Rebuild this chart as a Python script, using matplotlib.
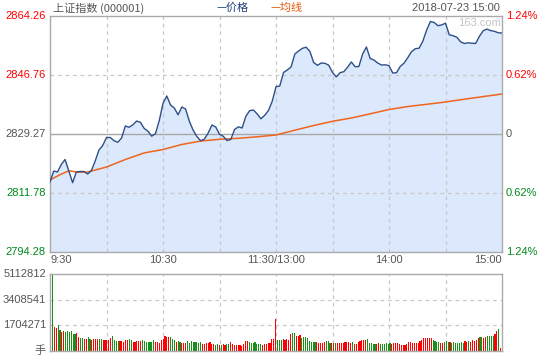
import matplotlib
matplotlib.use('Agg')
import matplotlib.pyplot as plt
import matplotlib.transforms as mtransforms
import numpy as np

plt.rcParams['font.family'] = ['Liberation Sans', 'Noto Sans CJK SC', 'DejaVu Sans']

# ---------------- data ----------------
prev_close = 2829.27
price_ticks = [2794.28, 2811.78, 2829.27, 2846.76, 2864.26]
price_tick_colors = ['#00891a', '#00891a', '#555555', '#ff0000', '#ff0000']
pct_labels = ['1.24%', '0.62%', '0', '0.62%', '1.24%']
time_ticks = [0, 60, 120, 180, 240]
time_labels = ['9:30', '10:30', '11:30/13:00', '14:00', '15:00']
grid_minutes = [30, 60, 90, 120, 150, 180, 210]

# price every 2 minutes (0..240)
price = [
    2815.04, 2818.30, 2818.00, 2820.23, 2821.71, 2818.30, 2814.83, 2818.00, 2818.15, 2818.15,
    2817.41, 2818.45, 2821.26, 2824.53, 2825.86, 2828.23, 2828.23, 2827.28, 2826.81, 2828.08,
    2831.64, 2831.26, 2832.00, 2833.12, 2832.74, 2830.93, 2830.10, 2828.62, 2829.36, 2833.21,
    2838.34, 2840.54, 2837.87, 2836.98, 2834.96, 2837.28, 2836.68, 2833.04, 2830.40, 2828.53,
    2827.25, 2827.79, 2829.57, 2831.94, 2831.35, 2829.21, 2828.59, 2827.34, 2827.64, 2830.60,
    2831.40, 2831.05, 2834.52, 2836.18, 2836.39, 2835.23, 2833.78, 2834.81, 2836.24, 2838.97,
    2843.30, 2843.50, 2847.51, 2848.25, 2849.14, 2852.99, 2853.88, 2854.68, 2855.01, 2853.76,
    2850.47, 2849.64, 2850.32, 2850.23, 2849.67, 2847.51, 2846.20, 2847.45, 2847.74, 2849.05,
    2850.62, 2849.23, 2849.29, 2852.96, 2855.07, 2851.66, 2851.21, 2850.32, 2849.73, 2849.79,
    2849.52, 2847.36, 2847.45, 2849.34, 2850.29, 2851.92, 2853.70, 2854.56, 2854.71, 2856.85,
    2860.11, 2862.63, 2862.33, 2861.38, 2861.62, 2862.13, 2858.69, 2858.42, 2857.97, 2856.61,
    2856.11, 2856.31, 2856.19, 2856.11, 2858.24, 2859.87, 2860.38, 2859.93, 2859.72, 2859.28,
    2859.22,
]
price_minutes = list(range(0, 241, 2))

avg_minutes = [0, 5, 10, 15, 20, 30, 40, 50, 60, 70, 80, 90, 100, 110, 120,
               130, 140, 150, 160, 170, 180, 190, 200, 210, 220, 230, 240]
avg_price = [2815.63, 2817.11, 2818.36, 2817.94, 2818.00, 2819.48, 2821.71, 2823.66, 2824.67,
             2826.16, 2827.19, 2827.70, 2827.99, 2828.44, 2828.97, 2830.40, 2831.79, 2833.04,
             2834.01, 2835.26, 2836.53, 2837.42, 2838.08, 2838.76, 2839.59, 2840.36, 2841.13]

# volume per minute, millions of 手
volume_m = [
    1.61, 5.112812, 1.60, 1.53, 1.75, 1.39, 1.28, 1.33, 1.28, 1.33,
    1.26, 1.33, 1.13, 1.13, 1.20, 0.93, 0.86, 0.86, 0.80, 0.80,
    0.93, 0.80, 0.73, 0.80, 0.80, 0.80, 0.80, 0.80, 0.73, 0.73,
    0.73, 0.73, 0.86, 1.00, 0.73, 0.66, 0.66, 0.66, 0.66, 0.60,
    0.73, 0.73, 0.80, 0.73, 0.60, 0.60, 0.66, 0.66, 0.66, 0.73,
    0.66, 0.60, 0.60, 0.60, 0.60, 0.73, 0.60, 0.60, 0.53, 0.73,
    0.80, 1.00, 0.93, 0.93, 0.93, 0.80, 0.73, 0.60, 0.66, 0.60,
    0.53, 0.53, 0.53, 0.66, 0.53, 0.66, 0.60, 0.60, 0.60, 0.53,
    0.60, 0.46, 0.46, 0.53, 0.53, 0.60, 0.46, 0.46, 0.40, 0.46,
    0.40, 0.40, 0.46, 0.40, 0.46, 0.46, 0.60, 0.46, 0.40, 0.40,
    0.40, 0.40, 0.33, 0.46, 0.66, 0.66, 0.60, 0.53, 0.53, 0.60,
    0.46, 0.46, 0.46, 0.40, 0.46, 0.46, 0.53, 0.53, 0.80, 0.80,
    2.12,
    0.73, 0.73, 0.73, 0.80, 0.73, 0.80, 0.73, 1.13, 1.20, 1.20,
    1.00, 1.00, 1.06, 0.86, 0.93, 0.93, 0.86, 0.66, 0.60, 0.60,
    0.60, 0.60, 0.53, 0.53, 0.53, 0.60, 0.66, 0.66, 0.53, 0.53,
    0.53, 0.53, 0.53, 0.53, 0.53, 0.53, 0.60, 0.60,
    0.60, 0.53, 0.60, 0.46, 0.46, 0.60, 0.66, 0.73, 0.73, 0.73,
    0.80, 0.53, 0.53, 0.46, 0.46, 0.46, 0.53, 0.46, 0.46, 0.46,
    0.53, 0.46, 0.53, 0.46, 0.53, 0.53, 0.53, 0.46, 0.40, 0.40,
    0.40, 0.46, 0.60, 0.60, 0.53, 0.53, 0.53, 0.53, 0.66, 0.73,
    0.86, 0.86, 0.86, 0.86, 0.86, 0.73, 0.66, 0.60, 0.60, 0.53,
    0.53, 0.60, 0.66, 0.60, 0.60, 0.53, 0.60, 0.53, 0.53, 0.53,
    0.60, 0.53, 0.66, 0.60, 0.66, 0.60, 0.73, 0.66, 0.73, 0.86,
    0.93, 0.93, 0.86, 0.93, 1.00, 1.00, 1.00, 1.00, 1.13, 1.33,
    1.46, 0.20,
]
volume_dir = (
    "GGRRGGRRGG" "GGGGRRGGRR" "GGRRRRGGRR" "RRRGGGGRRR" "RRGGRRRRRG" "GGGGGGRRRR" "RRRRGGGRGG" "RRRGGGGGGG"
    "GRRRRRRRGG" "RGRRGGRRRR" "RRRRRRGGGG" "GGGRRRRRRR" "R"
    "GGGRRRRRGG" "RRRGGGGGGG" "GRRRRRGGGR" "RGRRRRRR"
    "RRGRRRRRRR" "GGGGGRRGGG" "GGGRRRRRRR" "RRRRRRRRRR" "RRRRRGGGGR" "RGGGRGGGGG" "GGRRGRRRRR" "GGRRGGGGRR"
    "GR"
)
vol_ticks = [1704271, 3408541, 5112812]

# ---------------- figure ----------------
W, H = 540, 360
fig = plt.figure(figsize=(W / 100, H / 100), dpi=100)
fig.patch.set_facecolor('white')
ax = fig.add_axes([50 / W, 1 - 252 / H, 452 / W, 236 / H])
axv = fig.add_axes([50 / W, 1 - 351 / H, 452 / W, 77 / H])

spine_c = '#aaaaaa'
grid_c = '#c8c8c8'
dash = (0, (3, 3))

ymin, ymax = price_ticks[0], price_ticks[-1]
ax.set_xlim(0, 240)
ax.set_ylim(ymin, ymax)
ax.fill_between(price_minutes, price, ymin, color='#dce8fb', linewidth=0, zorder=1)
for m in grid_minutes:
    ax.axvline(m, color=grid_c, ls=dash, lw=0.9, zorder=2)
for v in (price_ticks[1], price_ticks[3]):
    ax.axhline(v, color=grid_c, ls=dash, lw=0.9, zorder=2)
ax.axhline(prev_close, color='#a8a8a8', lw=1.0, zorder=2)
ax.plot(avg_minutes, avg_price, color='#f0641e', lw=1.1, zorder=3)
ax.plot(price_minutes, price, color='#2c4f88', lw=1.0, zorder=4)

for a in (ax, axv):
    a.set_xticks([])
    a.set_yticks([])
    for s in a.spines.values():
        s.set_color(spine_c)
        s.set_linewidth(1.0)

tl = mtransforms.blended_transform_factory(ax.transAxes, ax.transData)
for v, c, p in zip(price_ticks, price_tick_colors, pct_labels):
    ax.text(-0.009, v, f'{v:.2f}', transform=tl, ha='right', va='center',
            color=c, fontsize=8, clip_on=False)
    ax.text(1.009, v, p, transform=tl, ha='left', va='center',
            color=c, fontsize=8, clip_on=False)

tb = mtransforms.blended_transform_factory(ax.transData, ax.transAxes)
for m, lab in zip(time_ticks, time_labels):
    ha = 'center'
    xx = m
    if m == 0:
        ha = 'left'
        xx = 0.5
    elif m == 240:
        ha = 'right'
    ax.text(xx, -0.032, lab, transform=tb, ha=ha, va='center', color='#555555',
            fontsize=8, clip_on=False)

ax.text(0.997, 0.972, '163.com', transform=ax.transAxes, ha='right', va='center',
        color='#c4c4c4', fontsize=8)

# header
fig.text(53 / W, 1 - 8 / H, '上证指数 (000001)', ha='left', va='center', color='#555555',
         fontsize=8, family=['Noto Sans CJK SC', 'DejaVu Sans'])
fig.text(216 / W, 1 - 8 / H, '—价格', ha='left', va='center', color='#1f3f7a',
         fontsize=8, family=['Noto Sans CJK SC', 'DejaVu Sans'])
fig.text(270 / W, 1 - 8 / H, '—均线', ha='left', va='center', color='#e8560c',
         fontsize=8, family=['Noto Sans CJK SC', 'DejaVu Sans'])
fig.text(500 / W, 1 - 8 / H, '2018-07-23 15:00', ha='right', va='center', color='#555555',
         fontsize=8)

# volume
n = len(volume_m)
vol = np.array(volume_m) * 1e6
cols = ['#ff0000' if d == 'R' else '#188f18' for d in volume_dir]
axv.set_xlim(0, n)
axv.set_ylim(0, vol_ticks[-1])
for m in grid_minutes:
    axv.plot([m / 240, m / 240], [0, 1], transform=axv.transAxes, color=grid_c,
             ls=dash, lw=0.9, zorder=1)
for v in vol_ticks[:2]:
    axv.axhline(v, color=grid_c, ls=dash, lw=0.9, zorder=1)
axv.bar(np.arange(n), vol, width=0.6, align='edge', color=cols, linewidth=0,
        antialiased=False, zorder=2)

tv = mtransforms.blended_transform_factory(axv.transAxes, axv.transData)
for v in vol_ticks:
    axv.text(-0.009, v, str(v), transform=tv, ha='right', va='center', color='#555555',
             fontsize=8, clip_on=False)
axv.text(-0.009, 0, '手', transform=tv, ha='right', va='center', color='#555555',
         fontsize=8, family=['Noto Sans CJK SC', 'DejaVu Sans'], clip_on=False)

fig.savefig('out.png', dpi=100, facecolor='white')
